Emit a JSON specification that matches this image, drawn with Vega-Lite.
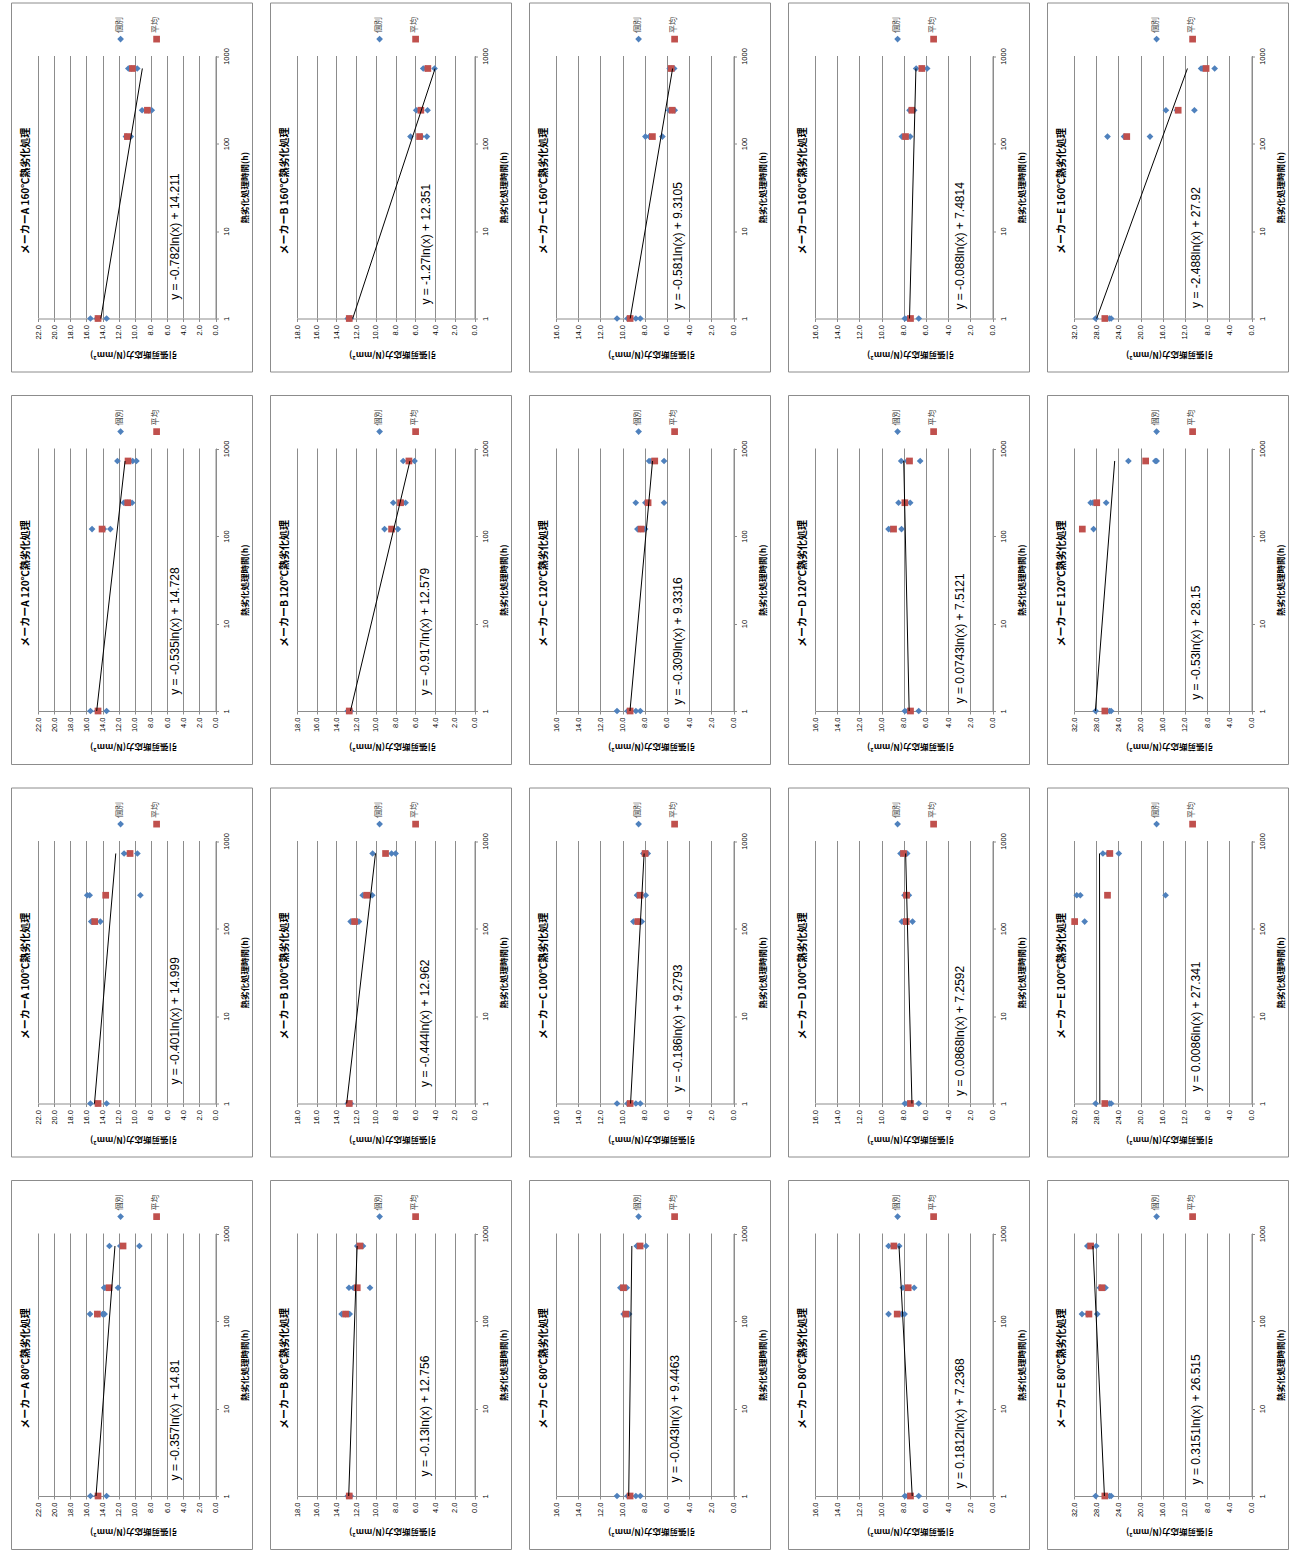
{
"$schema":"https://vega.github.io/schema/vega-lite/v6.json",
"padding":{"left":10,"top":1.5,"right":0,"bottom":0},
"background":"#ffffff",
"spacing":{"row":21.5,"column":16},
"columns":5,
"data":{"values":[
{"p":"A160","s":"個別","t":1,"v":15.5},{"p":"A160","s":"個別","t":1,"v":14.7},{"p":"A160","s":"個別","t":1,"v":13.5},
{"p":"A160","s":"個別","t":120,"v":11.1},{"p":"A160","s":"個別","t":120,"v":11.0},{"p":"A160","s":"個別","t":120,"v":10.5},
{"p":"A160","s":"個別","t":240,"v":9.1},{"p":"A160","s":"個別","t":240,"v":8.3},{"p":"A160","s":"個別","t":240,"v":7.9},
{"p":"A160","s":"個別","t":720,"v":10.8},{"p":"A160","s":"個別","t":720,"v":10.4},{"p":"A160","s":"個別","t":720,"v":9.7},
{"p":"A160","s":"平均","t":1,"v":14.56},{"p":"A160","s":"平均","t":120,"v":10.92},{"p":"A160","s":"平均","t":240,"v":8.44},{"p":"A160","s":"平均","t":720,"v":10.3},
{"p":"A160","s":"trend","t":1,"v":14.211},{"p":"A160","s":"trend","t":720,"v":9.066},
{"p":"A160","s":"eq","t":8.64,"v":4.96,"label":"y = -0.782ln(x) + 14.211"},

{"p":"B160","s":"個別","t":1,"v":12.85},{"p":"B160","s":"個別","t":1,"v":12.7},{"p":"B160","s":"個別","t":1,"v":12.55},
{"p":"B160","s":"個別","t":120,"v":6.49},{"p":"B160","s":"個別","t":120,"v":5.39},{"p":"B160","s":"個別","t":120,"v":4.83},
{"p":"B160","s":"個別","t":240,"v":5.91},{"p":"B160","s":"個別","t":240,"v":5.65},{"p":"B160","s":"個別","t":240,"v":4.76},
{"p":"B160","s":"個別","t":720,"v":5.2},{"p":"B160","s":"個別","t":720,"v":4.94},{"p":"B160","s":"個別","t":720,"v":4.05},
{"p":"B160","s":"平均","t":1,"v":12.7},{"p":"B160","s":"平均","t":120,"v":5.57},{"p":"B160","s":"平均","t":240,"v":5.44},{"p":"B160","s":"平均","t":720,"v":4.73},
{"p":"B160","s":"trend","t":1,"v":12.351},{"p":"B160","s":"trend","t":720,"v":3.995},
{"p":"B160","s":"eq","t":7.06,"v":4.96,"label":"y = -1.27ln(x) + 12.351"},

{"p":"C160","s":"個別","t":1,"v":10.5},{"p":"C160","s":"個別","t":1,"v":9.55},{"p":"C160","s":"個別","t":1,"v":8.8},{"p":"C160","s":"個別","t":1,"v":8.4},
{"p":"C160","s":"個別","t":120,"v":7.94},{"p":"C160","s":"個別","t":120,"v":7.58},{"p":"C160","s":"個別","t":120,"v":6.41},
{"p":"C160","s":"個別","t":240,"v":5.8},{"p":"C160","s":"個別","t":240,"v":5.5},{"p":"C160","s":"個別","t":240,"v":5.3},
{"p":"C160","s":"個別","t":720,"v":5.75},{"p":"C160","s":"個別","t":720,"v":5.6},{"p":"C160","s":"個別","t":720,"v":5.35},
{"p":"C160","s":"平均","t":1,"v":9.32},{"p":"C160","s":"平均","t":120,"v":7.31},{"p":"C160","s":"平均","t":240,"v":5.53},{"p":"C160","s":"平均","t":720,"v":5.62},
{"p":"C160","s":"trend","t":1,"v":9.3105},{"p":"C160","s":"trend","t":720,"v":5.488},
{"p":"C160","s":"eq","t":6.76,"v":4.96,"label":"y = -0.581ln(x) + 9.3105"},

{"p":"D160","s":"個別","t":1,"v":7.9},{"p":"D160","s":"個別","t":1,"v":7.65},{"p":"D160","s":"個別","t":1,"v":6.65},
{"p":"D160","s":"個別","t":120,"v":8.17},{"p":"D160","s":"個別","t":120,"v":7.93},{"p":"D160","s":"個別","t":120,"v":7.42},
{"p":"D160","s":"個別","t":240,"v":7.48},{"p":"D160","s":"個別","t":240,"v":7.27},{"p":"D160","s":"個別","t":240,"v":7.06},
{"p":"D160","s":"個別","t":720,"v":6.88},{"p":"D160","s":"個別","t":720,"v":6.34},{"p":"D160","s":"個別","t":720,"v":5.89},
{"p":"D160","s":"平均","t":1,"v":7.39},{"p":"D160","s":"平均","t":120,"v":7.84},{"p":"D160","s":"平均","t":240,"v":7.27},{"p":"D160","s":"平均","t":720,"v":6.37},
{"p":"D160","s":"trend","t":1,"v":7.4814},{"p":"D160","s":"trend","t":720,"v":6.902},
{"p":"D160","s":"eq","t":6.76,"v":2.97,"label":"y = -0.088ln(x) + 7.4814"},

{"p":"E160","s":"個別","t":1,"v":28.1},{"p":"E160","s":"個別","t":1,"v":25.6},{"p":"E160","s":"個別","t":1,"v":25.3},
{"p":"E160","s":"個別","t":120,"v":25.96},{"p":"E160","s":"個別","t":120,"v":22.97},{"p":"E160","s":"個別","t":120,"v":18.3},
{"p":"E160","s":"個別","t":240,"v":15.43},{"p":"E160","s":"個別","t":240,"v":13.46},{"p":"E160","s":"個別","t":240,"v":10.29},
{"p":"E160","s":"個別","t":720,"v":9.09},{"p":"E160","s":"個別","t":720,"v":8.84},{"p":"E160","s":"個別","t":720,"v":6.64},
{"p":"E160","s":"平均","t":1,"v":26.44},{"p":"E160","s":"平均","t":120,"v":22.49},{"p":"E160","s":"平均","t":240,"v":13.22},{"p":"E160","s":"平均","t":720,"v":8.19},
{"p":"E160","s":"trend","t":1,"v":27.92},{"p":"E160","s":"trend","t":720,"v":11.551},
{"p":"E160","s":"eq","t":6.47,"v":10.05,"label":"y = -2.488ln(x) + 27.92"},

{"p":"A120","s":"個別","t":1,"v":15.5},{"p":"A120","s":"個別","t":1,"v":14.7},{"p":"A120","s":"個別","t":1,"v":13.5},
{"p":"A120","s":"個別","t":120,"v":15.3},{"p":"A120","s":"個別","t":120,"v":13.85},{"p":"A120","s":"個別","t":120,"v":13.03},
{"p":"A120","s":"個別","t":240,"v":11.37},{"p":"A120","s":"個別","t":240,"v":10.93},{"p":"A120","s":"個別","t":240,"v":10.34},
{"p":"A120","s":"個別","t":720,"v":12.16},{"p":"A120","s":"個別","t":720,"v":10.26},{"p":"A120","s":"個別","t":720,"v":9.8},
{"p":"A120","s":"平均","t":1,"v":14.56},{"p":"A120","s":"平均","t":120,"v":14.06},{"p":"A120","s":"平均","t":240,"v":10.88},{"p":"A120","s":"平均","t":720,"v":10.84},
{"p":"A120","s":"trend","t":1,"v":14.728},{"p":"A120","s":"trend","t":720,"v":11.208},
{"p":"A120","s":"eq","t":8.2,"v":4.96,"label":"y = -0.535ln(x) + 14.728"},

{"p":"B120","s":"個別","t":1,"v":12.85},{"p":"B120","s":"個別","t":1,"v":12.7},{"p":"B120","s":"個別","t":1,"v":12.55},
{"p":"B120","s":"個別","t":120,"v":9.12},{"p":"B120","s":"個別","t":120,"v":8.34},{"p":"B120","s":"個別","t":120,"v":7.77},
{"p":"B120","s":"個別","t":240,"v":8.24},{"p":"B120","s":"個別","t":240,"v":7.27},{"p":"B120","s":"個別","t":240,"v":6.99},
{"p":"B120","s":"個別","t":720,"v":7.23},{"p":"B120","s":"個別","t":720,"v":6.64},{"p":"B120","s":"個別","t":720,"v":6.08},
{"p":"B120","s":"平均","t":1,"v":12.7},{"p":"B120","s":"平均","t":120,"v":8.41},{"p":"B120","s":"平均","t":240,"v":7.5},{"p":"B120","s":"平均","t":720,"v":6.65},
{"p":"B120","s":"trend","t":1,"v":12.579},{"p":"B120","s":"trend","t":720,"v":6.546},
{"p":"B120","s":"eq","t":8.07,"v":5.03,"label":"y = -0.917ln(x) + 12.579"},

{"p":"C120","s":"個別","t":1,"v":10.5},{"p":"C120","s":"個別","t":1,"v":9.55},{"p":"C120","s":"個別","t":1,"v":8.8},{"p":"C120","s":"個別","t":1,"v":8.4},
{"p":"C120","s":"個別","t":120,"v":8.66},{"p":"C120","s":"個別","t":120,"v":8.36},{"p":"C120","s":"個別","t":120,"v":7.97},
{"p":"C120","s":"個別","t":240,"v":8.81},{"p":"C120","s":"個別","t":240,"v":7.94},{"p":"C120","s":"個別","t":240,"v":6.26},
{"p":"C120","s":"個別","t":720,"v":7.61},{"p":"C120","s":"個別","t":720,"v":7.43},{"p":"C120","s":"個別","t":720,"v":6.26},
{"p":"C120","s":"平均","t":1,"v":9.32},{"p":"C120","s":"平均","t":120,"v":8.33},{"p":"C120","s":"平均","t":240,"v":7.7},{"p":"C120","s":"平均","t":720,"v":7.1},
{"p":"C120","s":"trend","t":1,"v":9.3316},{"p":"C120","s":"trend","t":720,"v":7.299},
{"p":"C120","s":"eq","t":6.3,"v":4.96,"label":"y = -0.309ln(x) + 9.3316"},

{"p":"D120","s":"個別","t":1,"v":7.9},{"p":"D120","s":"個別","t":1,"v":7.65},{"p":"D120","s":"個別","t":1,"v":6.65},
{"p":"D120","s":"個別","t":120,"v":9.37},{"p":"D120","s":"個別","t":120,"v":9.19},{"p":"D120","s":"個別","t":120,"v":8.2},
{"p":"D120","s":"個別","t":240,"v":8.47},{"p":"D120","s":"個別","t":240,"v":7.81},{"p":"D120","s":"個別","t":240,"v":7.42},
{"p":"D120","s":"個別","t":720,"v":8.23},{"p":"D120","s":"個別","t":720,"v":7.69},{"p":"D120","s":"個別","t":720,"v":6.52},
{"p":"D120","s":"平均","t":1,"v":7.39},{"p":"D120","s":"平均","t":120,"v":8.92},{"p":"D120","s":"平均","t":240,"v":7.9},{"p":"D120","s":"平均","t":720,"v":7.48},
{"p":"D120","s":"trend","t":1,"v":7.5121},{"p":"D120","s":"trend","t":720,"v":8.001},
{"p":"D120","s":"eq","t":6.76,"v":2.97,"label":"y = 0.0743ln(x) + 7.5121"},

{"p":"E120","s":"個別","t":1,"v":28.1},{"p":"E120","s":"個別","t":1,"v":25.6},{"p":"E120","s":"個別","t":1,"v":25.3},
{"p":"E120","s":"個別","t":120,"v":28.47},
{"p":"E120","s":"個別","t":240,"v":29.0},{"p":"E120","s":"個別","t":240,"v":28.6},{"p":"E120","s":"個別","t":240,"v":26.2},
{"p":"E120","s":"個別","t":720,"v":22.19},{"p":"E120","s":"個別","t":720,"v":17.34},{"p":"E120","s":"個別","t":720,"v":17.1},
{"p":"E120","s":"平均","t":1,"v":26.44},{"p":"E120","s":"平均","t":120,"v":30.5},{"p":"E120","s":"平均","t":240,"v":27.9},{"p":"E120","s":"平均","t":720,"v":19.08},
{"p":"E120","s":"trend","t":1,"v":28.15},{"p":"E120","s":"trend","t":720,"v":24.663},
{"p":"E120","s":"eq","t":6.03,"v":9.93,"label":"y = -0.53ln(x) + 28.15"},

{"p":"A100","s":"個別","t":1,"v":15.5},{"p":"A100","s":"個別","t":1,"v":14.7},{"p":"A100","s":"個別","t":1,"v":13.5},
{"p":"A100","s":"個別","t":120,"v":15.4},{"p":"A100","s":"個別","t":120,"v":15.2},{"p":"A100","s":"個別","t":120,"v":14.27},
{"p":"A100","s":"個別","t":240,"v":15.9},{"p":"A100","s":"個別","t":240,"v":15.6},{"p":"A100","s":"個別","t":240,"v":9.31},
{"p":"A100","s":"個別","t":720,"v":11.33},{"p":"A100","s":"個別","t":720,"v":10.76},{"p":"A100","s":"個別","t":720,"v":9.68},
{"p":"A100","s":"平均","t":1,"v":14.56},{"p":"A100","s":"平均","t":120,"v":14.97},{"p":"A100","s":"平均","t":240,"v":13.61},{"p":"A100","s":"平均","t":720,"v":10.59},
{"p":"A100","s":"trend","t":1,"v":14.999},{"p":"A100","s":"trend","t":720,"v":12.361},
{"p":"A100","s":"eq","t":8.79,"v":4.96,"label":"y = -0.401ln(x) + 14.999"},

{"p":"B100","s":"個別","t":1,"v":12.85},{"p":"B100","s":"個別","t":1,"v":12.7},{"p":"B100","s":"個別","t":1,"v":12.55},
{"p":"B100","s":"個別","t":120,"v":12.56},{"p":"B100","s":"個別","t":120,"v":12.2},{"p":"B100","s":"個別","t":120,"v":11.72},
{"p":"B100","s":"個別","t":240,"v":11.34},{"p":"B100","s":"個別","t":240,"v":11.11},{"p":"B100","s":"個別","t":240,"v":10.37},
{"p":"B100","s":"個別","t":720,"v":10.33},{"p":"B100","s":"個別","t":720,"v":8.41},{"p":"B100","s":"個別","t":720,"v":8.0},
{"p":"B100","s":"平均","t":1,"v":12.7},{"p":"B100","s":"平均","t":120,"v":12.16},{"p":"B100","s":"平均","t":240,"v":10.94},{"p":"B100","s":"平均","t":720,"v":9.02},
{"p":"B100","s":"trend","t":1,"v":12.962},{"p":"B100","s":"trend","t":720,"v":10.041},
{"p":"B100","s":"eq","t":8.27,"v":5.03,"label":"y = -0.444ln(x) + 12.962"},

{"p":"C100","s":"個別","t":1,"v":10.5},{"p":"C100","s":"個別","t":1,"v":9.55},{"p":"C100","s":"個別","t":1,"v":8.8},{"p":"C100","s":"個別","t":1,"v":8.4},
{"p":"C100","s":"個別","t":120,"v":9.02},{"p":"C100","s":"個別","t":120,"v":8.6},{"p":"C100","s":"個別","t":120,"v":8.27},
{"p":"C100","s":"個別","t":240,"v":8.69},{"p":"C100","s":"個別","t":240,"v":8.66},{"p":"C100","s":"個別","t":240,"v":7.91},
{"p":"C100","s":"個別","t":720,"v":8.12},{"p":"C100","s":"個別","t":720,"v":8.06},{"p":"C100","s":"個別","t":720,"v":7.73},
{"p":"C100","s":"平均","t":1,"v":9.32},{"p":"C100","s":"平均","t":120,"v":8.63},{"p":"C100","s":"平均","t":240,"v":8.42},{"p":"C100","s":"平均","t":720,"v":7.97},
{"p":"C100","s":"trend","t":1,"v":9.2793},{"p":"C100","s":"trend","t":720,"v":8.055},
{"p":"C100","s":"eq","t":7.25,"v":4.96,"label":"y = -0.186ln(x) + 9.2793"},

{"p":"D100","s":"個別","t":1,"v":7.9},{"p":"D100","s":"個別","t":1,"v":7.65},{"p":"D100","s":"個別","t":1,"v":6.65},
{"p":"D100","s":"個別","t":120,"v":8.17},{"p":"D100","s":"個別","t":120,"v":7.96},{"p":"D100","s":"個別","t":120,"v":7.21},
{"p":"D100","s":"個別","t":240,"v":7.93},{"p":"D100","s":"個別","t":240,"v":7.78},{"p":"D100","s":"個別","t":240,"v":7.54},
{"p":"D100","s":"個別","t":720,"v":8.29},{"p":"D100","s":"個別","t":720,"v":8.08},{"p":"D100","s":"個別","t":720,"v":7.69},
{"p":"D100","s":"平均","t":1,"v":7.39},{"p":"D100","s":"平均","t":120,"v":7.78},{"p":"D100","s":"平均","t":240,"v":7.75},{"p":"D100","s":"平均","t":720,"v":8.02},
{"p":"D100","s":"trend","t":1,"v":7.2592},{"p":"D100","s":"trend","t":720,"v":7.83},
{"p":"D100","s":"eq","t":6.76,"v":2.97,"label":"y = 0.0868ln(x) + 7.2592"},

{"p":"E100","s":"個別","t":1,"v":28.1},{"p":"E100","s":"個別","t":1,"v":25.6},{"p":"E100","s":"個別","t":1,"v":25.3},
{"p":"E100","s":"個別","t":120,"v":30.08},
{"p":"E100","s":"個別","t":240,"v":31.5},{"p":"E100","s":"個別","t":240,"v":30.86},{"p":"E100","s":"個別","t":240,"v":15.49},
{"p":"E100","s":"個別","t":720,"v":26.79},{"p":"E100","s":"個別","t":720,"v":25.9},{"p":"E100","s":"個別","t":720,"v":23.92},
{"p":"E100","s":"平均","t":1,"v":26.44},{"p":"E100","s":"平均","t":120,"v":31.88},{"p":"E100","s":"平均","t":240,"v":25.96},{"p":"E100","s":"平均","t":720,"v":25.54},
{"p":"E100","s":"trend","t":1,"v":27.341},{"p":"E100","s":"trend","t":720,"v":27.398},
{"p":"E100","s":"eq","t":7.58,"v":10.05,"label":"y = 0.0086ln(x) + 27.341"},

{"p":"A80","s":"個別","t":1,"v":15.5},{"p":"A80","s":"個別","t":1,"v":14.7},{"p":"A80","s":"個別","t":1,"v":13.5},
{"p":"A80","s":"個別","t":120,"v":15.55},{"p":"A80","s":"個別","t":120,"v":14.6},{"p":"A80","s":"個別","t":120,"v":14.0},{"p":"A80","s":"個別","t":120,"v":13.75},
{"p":"A80","s":"個別","t":240,"v":13.8},{"p":"A80","s":"個別","t":240,"v":13.69},{"p":"A80","s":"個別","t":240,"v":12.08},
{"p":"A80","s":"個別","t":720,"v":13.15},{"p":"A80","s":"個別","t":720,"v":11.8},{"p":"A80","s":"個別","t":720,"v":9.43},
{"p":"A80","s":"平均","t":1,"v":14.56},{"p":"A80","s":"平均","t":120,"v":14.64},{"p":"A80","s":"平均","t":240,"v":13.19},{"p":"A80","s":"平均","t":720,"v":11.46},
{"p":"A80","s":"trend","t":1,"v":14.81},{"p":"A80","s":"trend","t":720,"v":12.461},
{"p":"A80","s":"eq","t":7.38,"v":4.96,"label":"y = -0.357ln(x) + 14.81"},

{"p":"B80","s":"個別","t":1,"v":12.85},{"p":"B80","s":"個別","t":1,"v":12.7},{"p":"B80","s":"個別","t":1,"v":12.55},
{"p":"B80","s":"個別","t":120,"v":13.47},{"p":"B80","s":"個別","t":120,"v":13.08},{"p":"B80","s":"個別","t":120,"v":12.66},
{"p":"B80","s":"個別","t":240,"v":12.73},{"p":"B80","s":"個別","t":240,"v":12.29},{"p":"B80","s":"個別","t":240,"v":10.6},
{"p":"B80","s":"個別","t":720,"v":11.89},{"p":"B80","s":"個別","t":720,"v":11.66},{"p":"B80","s":"個別","t":720,"v":11.31},
{"p":"B80","s":"平均","t":1,"v":12.7},{"p":"B80","s":"平均","t":120,"v":13.07},{"p":"B80","s":"平均","t":240,"v":11.89},{"p":"B80","s":"平均","t":720,"v":11.62},
{"p":"B80","s":"trend","t":1,"v":12.756},{"p":"B80","s":"trend","t":720,"v":11.901},
{"p":"B80","s":"eq","t":8.2,"v":5.03,"label":"y = -0.13ln(x) + 12.756"},

{"p":"C80","s":"個別","t":1,"v":10.5},{"p":"C80","s":"個別","t":1,"v":9.55},{"p":"C80","s":"個別","t":1,"v":8.8},{"p":"C80","s":"個別","t":1,"v":8.4},
{"p":"C80","s":"個別","t":120,"v":9.9},{"p":"C80","s":"個別","t":120,"v":9.8},{"p":"C80","s":"個別","t":120,"v":9.41},
{"p":"C80","s":"個別","t":240,"v":10.2},{"p":"C80","s":"個別","t":240,"v":9.94},{"p":"C80","s":"個別","t":240,"v":9.62},
{"p":"C80","s":"個別","t":720,"v":8.72},{"p":"C80","s":"個別","t":720,"v":8.66},{"p":"C80","s":"個別","t":720,"v":7.88},
{"p":"C80","s":"平均","t":1,"v":9.32},{"p":"C80","s":"平均","t":120,"v":9.71},{"p":"C80","s":"平均","t":240,"v":9.92},{"p":"C80","s":"平均","t":720,"v":8.42},
{"p":"C80","s":"trend","t":1,"v":9.4463},{"p":"C80","s":"trend","t":720,"v":9.163},
{"p":"C80","s":"eq","t":7.64,"v":5.26,"label":"y = -0.043ln(x) + 9.4463"},

{"p":"D80","s":"個別","t":1,"v":7.9},{"p":"D80","s":"個別","t":1,"v":7.65},{"p":"D80","s":"個別","t":1,"v":6.65},
{"p":"D80","s":"個別","t":120,"v":9.37},{"p":"D80","s":"個別","t":120,"v":8.17},{"p":"D80","s":"個別","t":120,"v":7.93},
{"p":"D80","s":"個別","t":240,"v":8.08},{"p":"D80","s":"個別","t":240,"v":7.66},{"p":"D80","s":"個別","t":240,"v":7.06},
{"p":"D80","s":"個別","t":720,"v":9.37},{"p":"D80","s":"個別","t":720,"v":8.89},{"p":"D80","s":"個別","t":720,"v":8.41},
{"p":"D80","s":"平均","t":1,"v":7.39},{"p":"D80","s":"平均","t":120,"v":8.59},{"p":"D80","s":"平均","t":240,"v":7.6},{"p":"D80","s":"平均","t":720,"v":8.89},
{"p":"D80","s":"trend","t":1,"v":7.2368},{"p":"D80","s":"trend","t":720,"v":8.429},
{"p":"D80","s":"eq","t":6.76,"v":2.97,"label":"y = 0.1812ln(x) + 7.2368"},

{"p":"E80","s":"個別","t":1,"v":28.1},{"p":"E80","s":"個別","t":1,"v":25.6},{"p":"E80","s":"個別","t":1,"v":25.3},
{"p":"E80","s":"個別","t":120,"v":30.56},{"p":"E80","s":"個別","t":120,"v":29.56},{"p":"E80","s":"個別","t":120,"v":27.81},
{"p":"E80","s":"個別","t":240,"v":27.3},{"p":"E80","s":"個別","t":240,"v":27.27},{"p":"E80","s":"個別","t":240,"v":26.32},
{"p":"E80","s":"個別","t":720,"v":29.6},{"p":"E80","s":"個別","t":720,"v":29.37},{"p":"E80","s":"個別","t":720,"v":27.99},
{"p":"E80","s":"平均","t":1,"v":26.44},{"p":"E80","s":"平均","t":120,"v":29.31},{"p":"E80","s":"平均","t":240,"v":26.97},{"p":"E80","s":"平均","t":720,"v":29.0},
{"p":"E80","s":"trend","t":1,"v":26.515},{"p":"E80","s":"trend","t":720,"v":28.588},
{"p":"E80","s":"eq","t":7.51,"v":9.93,"label":"y = 0.3151ln(x) + 26.515"}
]},
"resolve":{"scale":{"color":"independent","shape":"independent"},"legend":{"color":"independent","shape":"independent"}},
"concat":[
{"width":241,"height":369,"transform":[{"filter":"datum.p=='A160'"}],"title":"メーカーA 160℃熱劣化処理",
"encoding":{"x":{"field":"v","type":"quantitative","scale":{"domain":[0,22],"range":[204.5,27],"nice":false,"zero":false},"axis":{"values":[0,2,4,6,8,10,12,14,16,18,20,22],"offset":-53,"format":".1f","title":"引張剪断応力(N/mm²)"}},
"y":{"field":"t","type":"quantitative","scale":{"type":"log","domain":[1,1000],"range":[316,53.5]},"axis":{"orient":"right","offset":-36.5,"values":[1,10,100,1000],"format":"d","title":"熱劣化処理時間(h)"}}},
"layer":[
{"transform":[{"filter":"datum.s=='個別'||datum.s=='平均'"}],"mark":{"type":"point","filled":true,"opacity":1,"size":45,"strokeWidth":0},
"encoding":{"color":{"field":"s","type":"nominal","title":null,"scale":{"domain":["個別","平均"],"range":["#4F81BD","#C0504D"]},"legend":{"orient":"none","legendX":105.6,"legendY":32.3,"direction":"horizontal","columnPadding":27,"padding":0,"labelFont":"Noto Sans CJK JP","labelFontSize":8,"labelColor":"#404040","symbolSize":45,"symbolStrokeWidth":0,"encoding":{"labels":{"angle":{"value":270},"align":{"value":"left"},"baseline":{"value":"middle"},"x":{"value":3.35},"dx":{"value":6}}}}},
"shape":{"field":"s","type":"nominal","title":null,"scale":{"domain":["個別","平均"],"range":["diamond","square"]}}}},
{"transform":[{"filter":"datum.s=='trend'"}],"mark":{"type":"line","color":"#000000","strokeWidth":1},"encoding":{}},
{"transform":[{"filter":"datum.s=='eq'"}],"mark":{"type":"text","angle":270,"fontSize":12,"font":"Liberation Sans","color":"#000000"},"encoding":{"text":{"field":"label"}}}
]},
{"width":241,"height":369,"transform":[{"filter":"datum.p=='B160'"}],"title":"メーカーB 160℃熱劣化処理",
"encoding":{"x":{"field":"v","type":"quantitative","scale":{"domain":[0,18],"range":[204.5,27],"nice":false,"zero":false},"axis":{"values":[0,2,4,6,8,10,12,14,16,18],"offset":-53,"format":".1f","title":"引張剪断応力(N/mm²)"}},
"y":{"field":"t","type":"quantitative","scale":{"type":"log","domain":[1,1000],"range":[316,53.5]},"axis":{"orient":"right","offset":-36.5,"values":[1,10,100,1000],"format":"d","title":"熱劣化処理時間(h)"}}},
"layer":[
{"transform":[{"filter":"datum.s=='個別'||datum.s=='平均'"}],"mark":{"type":"point","filled":true,"opacity":1,"size":45,"strokeWidth":0},
"encoding":{"color":{"field":"s","type":"nominal","title":null,"scale":{"domain":["個別","平均"],"range":["#4F81BD","#C0504D"]},"legend":{"orient":"none","legendX":105.6,"legendY":32.3,"direction":"horizontal","columnPadding":27,"padding":0,"labelFont":"Noto Sans CJK JP","labelFontSize":8,"labelColor":"#404040","symbolSize":45,"symbolStrokeWidth":0,"encoding":{"labels":{"angle":{"value":270},"align":{"value":"left"},"baseline":{"value":"middle"},"x":{"value":3.35},"dx":{"value":6}}}}},
"shape":{"field":"s","type":"nominal","title":null,"scale":{"domain":["個別","平均"],"range":["diamond","square"]}}}},
{"transform":[{"filter":"datum.s=='trend'"}],"mark":{"type":"line","color":"#000000","strokeWidth":1},"encoding":{}},
{"transform":[{"filter":"datum.s=='eq'"}],"mark":{"type":"text","angle":270,"fontSize":12,"font":"Liberation Sans","color":"#000000"},"encoding":{"text":{"field":"label"}}}
]},
{"width":241,"height":369,"transform":[{"filter":"datum.p=='C160'"}],"title":"メーカーC 160℃熱劣化処理",
"encoding":{"x":{"field":"v","type":"quantitative","scale":{"domain":[0,16],"range":[204.5,27],"nice":false,"zero":false},"axis":{"values":[0,2,4,6,8,10,12,14,16],"offset":-53,"format":".1f","title":"引張剪断応力(N/mm²)"}},
"y":{"field":"t","type":"quantitative","scale":{"type":"log","domain":[1,1000],"range":[316,53.5]},"axis":{"orient":"right","offset":-36.5,"values":[1,10,100,1000],"format":"d","title":"熱劣化処理時間(h)"}}},
"layer":[
{"transform":[{"filter":"datum.s=='個別'||datum.s=='平均'"}],"mark":{"type":"point","filled":true,"opacity":1,"size":45,"strokeWidth":0},
"encoding":{"color":{"field":"s","type":"nominal","title":null,"scale":{"domain":["個別","平均"],"range":["#4F81BD","#C0504D"]},"legend":{"orient":"none","legendX":105.6,"legendY":32.3,"direction":"horizontal","columnPadding":27,"padding":0,"labelFont":"Noto Sans CJK JP","labelFontSize":8,"labelColor":"#404040","symbolSize":45,"symbolStrokeWidth":0,"encoding":{"labels":{"angle":{"value":270},"align":{"value":"left"},"baseline":{"value":"middle"},"x":{"value":3.35},"dx":{"value":6}}}}},
"shape":{"field":"s","type":"nominal","title":null,"scale":{"domain":["個別","平均"],"range":["diamond","square"]}}}},
{"transform":[{"filter":"datum.s=='trend'"}],"mark":{"type":"line","color":"#000000","strokeWidth":1},"encoding":{}},
{"transform":[{"filter":"datum.s=='eq'"}],"mark":{"type":"text","angle":270,"fontSize":12,"font":"Liberation Sans","color":"#000000"},"encoding":{"text":{"field":"label"}}}
]},
{"width":241,"height":369,"transform":[{"filter":"datum.p=='D160'"}],"title":"メーカーD 160℃熱劣化処理",
"encoding":{"x":{"field":"v","type":"quantitative","scale":{"domain":[0,16],"range":[204.5,27],"nice":false,"zero":false},"axis":{"values":[0,2,4,6,8,10,12,14,16],"offset":-53,"format":".1f","title":"引張剪断応力(N/mm²)"}},
"y":{"field":"t","type":"quantitative","scale":{"type":"log","domain":[1,1000],"range":[316,53.5]},"axis":{"orient":"right","offset":-36.5,"values":[1,10,100,1000],"format":"d","title":"熱劣化処理時間(h)"}}},
"layer":[
{"transform":[{"filter":"datum.s=='個別'||datum.s=='平均'"}],"mark":{"type":"point","filled":true,"opacity":1,"size":45,"strokeWidth":0},
"encoding":{"color":{"field":"s","type":"nominal","title":null,"scale":{"domain":["個別","平均"],"range":["#4F81BD","#C0504D"]},"legend":{"orient":"none","legendX":105.6,"legendY":32.3,"direction":"horizontal","columnPadding":27,"padding":0,"labelFont":"Noto Sans CJK JP","labelFontSize":8,"labelColor":"#404040","symbolSize":45,"symbolStrokeWidth":0,"encoding":{"labels":{"angle":{"value":270},"align":{"value":"left"},"baseline":{"value":"middle"},"x":{"value":3.35},"dx":{"value":6}}}}},
"shape":{"field":"s","type":"nominal","title":null,"scale":{"domain":["個別","平均"],"range":["diamond","square"]}}}},
{"transform":[{"filter":"datum.s=='trend'"}],"mark":{"type":"line","color":"#000000","strokeWidth":1},"encoding":{}},
{"transform":[{"filter":"datum.s=='eq'"}],"mark":{"type":"text","angle":270,"fontSize":12,"font":"Liberation Sans","color":"#000000"},"encoding":{"text":{"field":"label"}}}
]},
{"width":241,"height":369,"transform":[{"filter":"datum.p=='E160'"}],"title":"メーカーE 160℃熱劣化処理",
"encoding":{"x":{"field":"v","type":"quantitative","scale":{"domain":[0,32],"range":[204.5,27],"nice":false,"zero":false},"axis":{"values":[0,4,8,12,16,20,24,28,32],"offset":-53,"format":".1f","title":"引張剪断応力(N/mm²)"}},
"y":{"field":"t","type":"quantitative","scale":{"type":"log","domain":[1,1000],"range":[316,53.5]},"axis":{"orient":"right","offset":-36.5,"values":[1,10,100,1000],"format":"d","title":"熱劣化処理時間(h)"}}},
"layer":[
{"transform":[{"filter":"datum.s=='個別'||datum.s=='平均'"}],"mark":{"type":"point","filled":true,"opacity":1,"size":45,"strokeWidth":0},
"encoding":{"color":{"field":"s","type":"nominal","title":null,"scale":{"domain":["個別","平均"],"range":["#4F81BD","#C0504D"]},"legend":{"orient":"none","legendX":105.6,"legendY":32.3,"direction":"horizontal","columnPadding":27,"padding":0,"labelFont":"Noto Sans CJK JP","labelFontSize":8,"labelColor":"#404040","symbolSize":45,"symbolStrokeWidth":0,"encoding":{"labels":{"angle":{"value":270},"align":{"value":"left"},"baseline":{"value":"middle"},"x":{"value":3.35},"dx":{"value":6}}}}},
"shape":{"field":"s","type":"nominal","title":null,"scale":{"domain":["個別","平均"],"range":["diamond","square"]}}}},
{"transform":[{"filter":"datum.s=='trend'"}],"mark":{"type":"line","color":"#000000","strokeWidth":1},"encoding":{}},
{"transform":[{"filter":"datum.s=='eq'"}],"mark":{"type":"text","angle":270,"fontSize":12,"font":"Liberation Sans","color":"#000000"},"encoding":{"text":{"field":"label"}}}
]},
{"width":241,"height":369,"transform":[{"filter":"datum.p=='A120'"}],"title":"メーカーA 120℃熱劣化処理",
"encoding":{"x":{"field":"v","type":"quantitative","scale":{"domain":[0,22],"range":[204.5,27],"nice":false,"zero":false},"axis":{"values":[0,2,4,6,8,10,12,14,16,18,20,22],"offset":-53,"format":".1f","title":"引張剪断応力(N/mm²)"}},
"y":{"field":"t","type":"quantitative","scale":{"type":"log","domain":[1,1000],"range":[316,53.5]},"axis":{"orient":"right","offset":-36.5,"values":[1,10,100,1000],"format":"d","title":"熱劣化処理時間(h)"}}},
"layer":[
{"transform":[{"filter":"datum.s=='個別'||datum.s=='平均'"}],"mark":{"type":"point","filled":true,"opacity":1,"size":45,"strokeWidth":0},
"encoding":{"color":{"field":"s","type":"nominal","title":null,"scale":{"domain":["個別","平均"],"range":["#4F81BD","#C0504D"]},"legend":{"orient":"none","legendX":105.6,"legendY":32.3,"direction":"horizontal","columnPadding":27,"padding":0,"labelFont":"Noto Sans CJK JP","labelFontSize":8,"labelColor":"#404040","symbolSize":45,"symbolStrokeWidth":0,"encoding":{"labels":{"angle":{"value":270},"align":{"value":"left"},"baseline":{"value":"middle"},"x":{"value":3.35},"dx":{"value":6}}}}},
"shape":{"field":"s","type":"nominal","title":null,"scale":{"domain":["個別","平均"],"range":["diamond","square"]}}}},
{"transform":[{"filter":"datum.s=='trend'"}],"mark":{"type":"line","color":"#000000","strokeWidth":1},"encoding":{}},
{"transform":[{"filter":"datum.s=='eq'"}],"mark":{"type":"text","angle":270,"fontSize":12,"font":"Liberation Sans","color":"#000000"},"encoding":{"text":{"field":"label"}}}
]},
{"width":241,"height":369,"transform":[{"filter":"datum.p=='B120'"}],"title":"メーカーB 120℃熱劣化処理",
"encoding":{"x":{"field":"v","type":"quantitative","scale":{"domain":[0,18],"range":[204.5,27],"nice":false,"zero":false},"axis":{"values":[0,2,4,6,8,10,12,14,16,18],"offset":-53,"format":".1f","title":"引張剪断応力(N/mm²)"}},
"y":{"field":"t","type":"quantitative","scale":{"type":"log","domain":[1,1000],"range":[316,53.5]},"axis":{"orient":"right","offset":-36.5,"values":[1,10,100,1000],"format":"d","title":"熱劣化処理時間(h)"}}},
"layer":[
{"transform":[{"filter":"datum.s=='個別'||datum.s=='平均'"}],"mark":{"type":"point","filled":true,"opacity":1,"size":45,"strokeWidth":0},
"encoding":{"color":{"field":"s","type":"nominal","title":null,"scale":{"domain":["個別","平均"],"range":["#4F81BD","#C0504D"]},"legend":{"orient":"none","legendX":105.6,"legendY":32.3,"direction":"horizontal","columnPadding":27,"padding":0,"labelFont":"Noto Sans CJK JP","labelFontSize":8,"labelColor":"#404040","symbolSize":45,"symbolStrokeWidth":0,"encoding":{"labels":{"angle":{"value":270},"align":{"value":"left"},"baseline":{"value":"middle"},"x":{"value":3.35},"dx":{"value":6}}}}},
"shape":{"field":"s","type":"nominal","title":null,"scale":{"domain":["個別","平均"],"range":["diamond","square"]}}}},
{"transform":[{"filter":"datum.s=='trend'"}],"mark":{"type":"line","color":"#000000","strokeWidth":1},"encoding":{}},
{"transform":[{"filter":"datum.s=='eq'"}],"mark":{"type":"text","angle":270,"fontSize":12,"font":"Liberation Sans","color":"#000000"},"encoding":{"text":{"field":"label"}}}
]},
{"width":241,"height":369,"transform":[{"filter":"datum.p=='C120'"}],"title":"メーカーC 120℃熱劣化処理",
"encoding":{"x":{"field":"v","type":"quantitative","scale":{"domain":[0,16],"range":[204.5,27],"nice":false,"zero":false},"axis":{"values":[0,2,4,6,8,10,12,14,16],"offset":-53,"format":".1f","title":"引張剪断応力(N/mm²)"}},
"y":{"field":"t","type":"quantitative","scale":{"type":"log","domain":[1,1000],"range":[316,53.5]},"axis":{"orient":"right","offset":-36.5,"values":[1,10,100,1000],"format":"d","title":"熱劣化処理時間(h)"}}},
"layer":[
{"transform":[{"filter":"datum.s=='個別'||datum.s=='平均'"}],"mark":{"type":"point","filled":true,"opacity":1,"size":45,"strokeWidth":0},
"encoding":{"color":{"field":"s","type":"nominal","title":null,"scale":{"domain":["個別","平均"],"range":["#4F81BD","#C0504D"]},"legend":{"orient":"none","legendX":105.6,"legendY":32.3,"direction":"horizontal","columnPadding":27,"padding":0,"labelFont":"Noto Sans CJK JP","labelFontSize":8,"labelColor":"#404040","symbolSize":45,"symbolStrokeWidth":0,"encoding":{"labels":{"angle":{"value":270},"align":{"value":"left"},"baseline":{"value":"middle"},"x":{"value":3.35},"dx":{"value":6}}}}},
"shape":{"field":"s","type":"nominal","title":null,"scale":{"domain":["個別","平均"],"range":["diamond","square"]}}}},
{"transform":[{"filter":"datum.s=='trend'"}],"mark":{"type":"line","color":"#000000","strokeWidth":1},"encoding":{}},
{"transform":[{"filter":"datum.s=='eq'"}],"mark":{"type":"text","angle":270,"fontSize":12,"font":"Liberation Sans","color":"#000000"},"encoding":{"text":{"field":"label"}}}
]},
{"width":241,"height":369,"transform":[{"filter":"datum.p=='D120'"}],"title":"メーカーD 120℃熱劣化処理",
"encoding":{"x":{"field":"v","type":"quantitative","scale":{"domain":[0,16],"range":[204.5,27],"nice":false,"zero":false},"axis":{"values":[0,2,4,6,8,10,12,14,16],"offset":-53,"format":".1f","title":"引張剪断応力(N/mm²)"}},
"y":{"field":"t","type":"quantitative","scale":{"type":"log","domain":[1,1000],"range":[316,53.5]},"axis":{"orient":"right","offset":-36.5,"values":[1,10,100,1000],"format":"d","title":"熱劣化処理時間(h)"}}},
"layer":[
{"transform":[{"filter":"datum.s=='個別'||datum.s=='平均'"}],"mark":{"type":"point","filled":true,"opacity":1,"size":45,"strokeWidth":0},
"encoding":{"color":{"field":"s","type":"nominal","title":null,"scale":{"domain":["個別","平均"],"range":["#4F81BD","#C0504D"]},"legend":{"orient":"none","legendX":105.6,"legendY":32.3,"direction":"horizontal","columnPadding":27,"padding":0,"labelFont":"Noto Sans CJK JP","labelFontSize":8,"labelColor":"#404040","symbolSize":45,"symbolStrokeWidth":0,"encoding":{"labels":{"angle":{"value":270},"align":{"value":"left"},"baseline":{"value":"middle"},"x":{"value":3.35},"dx":{"value":6}}}}},
"shape":{"field":"s","type":"nominal","title":null,"scale":{"domain":["個別","平均"],"range":["diamond","square"]}}}},
{"transform":[{"filter":"datum.s=='trend'"}],"mark":{"type":"line","color":"#000000","strokeWidth":1},"encoding":{}},
{"transform":[{"filter":"datum.s=='eq'"}],"mark":{"type":"text","angle":270,"fontSize":12,"font":"Liberation Sans","color":"#000000"},"encoding":{"text":{"field":"label"}}}
]},
{"width":241,"height":369,"transform":[{"filter":"datum.p=='E120'"}],"title":"メーカーE 120℃熱劣化処理",
"encoding":{"x":{"field":"v","type":"quantitative","scale":{"domain":[0,32],"range":[204.5,27],"nice":false,"zero":false},"axis":{"values":[0,4,8,12,16,20,24,28,32],"offset":-53,"format":".1f","title":"引張剪断応力(N/mm²)"}},
"y":{"field":"t","type":"quantitative","scale":{"type":"log","domain":[1,1000],"range":[316,53.5]},"axis":{"orient":"right","offset":-36.5,"values":[1,10,100,1000],"format":"d","title":"熱劣化処理時間(h)"}}},
"layer":[
{"transform":[{"filter":"datum.s=='個別'||datum.s=='平均'"}],"mark":{"type":"point","filled":true,"opacity":1,"size":45,"strokeWidth":0},
"encoding":{"color":{"field":"s","type":"nominal","title":null,"scale":{"domain":["個別","平均"],"range":["#4F81BD","#C0504D"]},"legend":{"orient":"none","legendX":105.6,"legendY":32.3,"direction":"horizontal","columnPadding":27,"padding":0,"labelFont":"Noto Sans CJK JP","labelFontSize":8,"labelColor":"#404040","symbolSize":45,"symbolStrokeWidth":0,"encoding":{"labels":{"angle":{"value":270},"align":{"value":"left"},"baseline":{"value":"middle"},"x":{"value":3.35},"dx":{"value":6}}}}},
"shape":{"field":"s","type":"nominal","title":null,"scale":{"domain":["個別","平均"],"range":["diamond","square"]}}}},
{"transform":[{"filter":"datum.s=='trend'"}],"mark":{"type":"line","color":"#000000","strokeWidth":1},"encoding":{}},
{"transform":[{"filter":"datum.s=='eq'"}],"mark":{"type":"text","angle":270,"fontSize":12,"font":"Liberation Sans","color":"#000000"},"encoding":{"text":{"field":"label"}}}
]},
{"width":241,"height":369,"transform":[{"filter":"datum.p=='A100'"}],"title":"メーカーA 100℃熱劣化処理",
"encoding":{"x":{"field":"v","type":"quantitative","scale":{"domain":[0,22],"range":[204.5,27],"nice":false,"zero":false},"axis":{"values":[0,2,4,6,8,10,12,14,16,18,20,22],"offset":-53,"format":".1f","title":"引張剪断応力(N/mm²)"}},
"y":{"field":"t","type":"quantitative","scale":{"type":"log","domain":[1,1000],"range":[316,53.5]},"axis":{"orient":"right","offset":-36.5,"values":[1,10,100,1000],"format":"d","title":"熱劣化処理時間(h)"}}},
"layer":[
{"transform":[{"filter":"datum.s=='個別'||datum.s=='平均'"}],"mark":{"type":"point","filled":true,"opacity":1,"size":45,"strokeWidth":0},
"encoding":{"color":{"field":"s","type":"nominal","title":null,"scale":{"domain":["個別","平均"],"range":["#4F81BD","#C0504D"]},"legend":{"orient":"none","legendX":105.6,"legendY":32.3,"direction":"horizontal","columnPadding":27,"padding":0,"labelFont":"Noto Sans CJK JP","labelFontSize":8,"labelColor":"#404040","symbolSize":45,"symbolStrokeWidth":0,"encoding":{"labels":{"angle":{"value":270},"align":{"value":"left"},"baseline":{"value":"middle"},"x":{"value":3.35},"dx":{"value":6}}}}},
"shape":{"field":"s","type":"nominal","title":null,"scale":{"domain":["個別","平均"],"range":["diamond","square"]}}}},
{"transform":[{"filter":"datum.s=='trend'"}],"mark":{"type":"line","color":"#000000","strokeWidth":1},"encoding":{}},
{"transform":[{"filter":"datum.s=='eq'"}],"mark":{"type":"text","angle":270,"fontSize":12,"font":"Liberation Sans","color":"#000000"},"encoding":{"text":{"field":"label"}}}
]},
{"width":241,"height":369,"transform":[{"filter":"datum.p=='B100'"}],"title":"メーカーB 100℃熱劣化処理",
"encoding":{"x":{"field":"v","type":"quantitative","scale":{"domain":[0,18],"range":[204.5,27],"nice":false,"zero":false},"axis":{"values":[0,2,4,6,8,10,12,14,16,18],"offset":-53,"format":".1f","title":"引張剪断応力(N/mm²)"}},
"y":{"field":"t","type":"quantitative","scale":{"type":"log","domain":[1,1000],"range":[316,53.5]},"axis":{"orient":"right","offset":-36.5,"values":[1,10,100,1000],"format":"d","title":"熱劣化処理時間(h)"}}},
"layer":[
{"transform":[{"filter":"datum.s=='個別'||datum.s=='平均'"}],"mark":{"type":"point","filled":true,"opacity":1,"size":45,"strokeWidth":0},
"encoding":{"color":{"field":"s","type":"nominal","title":null,"scale":{"domain":["個別","平均"],"range":["#4F81BD","#C0504D"]},"legend":{"orient":"none","legendX":105.6,"legendY":32.3,"direction":"horizontal","columnPadding":27,"padding":0,"labelFont":"Noto Sans CJK JP","labelFontSize":8,"labelColor":"#404040","symbolSize":45,"symbolStrokeWidth":0,"encoding":{"labels":{"angle":{"value":270},"align":{"value":"left"},"baseline":{"value":"middle"},"x":{"value":3.35},"dx":{"value":6}}}}},
"shape":{"field":"s","type":"nominal","title":null,"scale":{"domain":["個別","平均"],"range":["diamond","square"]}}}},
{"transform":[{"filter":"datum.s=='trend'"}],"mark":{"type":"line","color":"#000000","strokeWidth":1},"encoding":{}},
{"transform":[{"filter":"datum.s=='eq'"}],"mark":{"type":"text","angle":270,"fontSize":12,"font":"Liberation Sans","color":"#000000"},"encoding":{"text":{"field":"label"}}}
]},
{"width":241,"height":369,"transform":[{"filter":"datum.p=='C100'"}],"title":"メーカーC 100℃熱劣化処理",
"encoding":{"x":{"field":"v","type":"quantitative","scale":{"domain":[0,16],"range":[204.5,27],"nice":false,"zero":false},"axis":{"values":[0,2,4,6,8,10,12,14,16],"offset":-53,"format":".1f","title":"引張剪断応力(N/mm²)"}},
"y":{"field":"t","type":"quantitative","scale":{"type":"log","domain":[1,1000],"range":[316,53.5]},"axis":{"orient":"right","offset":-36.5,"values":[1,10,100,1000],"format":"d","title":"熱劣化処理時間(h)"}}},
"layer":[
{"transform":[{"filter":"datum.s=='個別'||datum.s=='平均'"}],"mark":{"type":"point","filled":true,"opacity":1,"size":45,"strokeWidth":0},
"encoding":{"color":{"field":"s","type":"nominal","title":null,"scale":{"domain":["個別","平均"],"range":["#4F81BD","#C0504D"]},"legend":{"orient":"none","legendX":105.6,"legendY":32.3,"direction":"horizontal","columnPadding":27,"padding":0,"labelFont":"Noto Sans CJK JP","labelFontSize":8,"labelColor":"#404040","symbolSize":45,"symbolStrokeWidth":0,"encoding":{"labels":{"angle":{"value":270},"align":{"value":"left"},"baseline":{"value":"middle"},"x":{"value":3.35},"dx":{"value":6}}}}},
"shape":{"field":"s","type":"nominal","title":null,"scale":{"domain":["個別","平均"],"range":["diamond","square"]}}}},
{"transform":[{"filter":"datum.s=='trend'"}],"mark":{"type":"line","color":"#000000","strokeWidth":1},"encoding":{}},
{"transform":[{"filter":"datum.s=='eq'"}],"mark":{"type":"text","angle":270,"fontSize":12,"font":"Liberation Sans","color":"#000000"},"encoding":{"text":{"field":"label"}}}
]},
{"width":241,"height":369,"transform":[{"filter":"datum.p=='D100'"}],"title":"メーカーD 100℃熱劣化処理",
"encoding":{"x":{"field":"v","type":"quantitative","scale":{"domain":[0,16],"range":[204.5,27],"nice":false,"zero":false},"axis":{"values":[0,2,4,6,8,10,12,14,16],"offset":-53,"format":".1f","title":"引張剪断応力(N/mm²)"}},
"y":{"field":"t","type":"quantitative","scale":{"type":"log","domain":[1,1000],"range":[316,53.5]},"axis":{"orient":"right","offset":-36.5,"values":[1,10,100,1000],"format":"d","title":"熱劣化処理時間(h)"}}},
"layer":[
{"transform":[{"filter":"datum.s=='個別'||datum.s=='平均'"}],"mark":{"type":"point","filled":true,"opacity":1,"size":45,"strokeWidth":0},
"encoding":{"color":{"field":"s","type":"nominal","title":null,"scale":{"domain":["個別","平均"],"range":["#4F81BD","#C0504D"]},"legend":{"orient":"none","legendX":105.6,"legendY":32.3,"direction":"horizontal","columnPadding":27,"padding":0,"labelFont":"Noto Sans CJK JP","labelFontSize":8,"labelColor":"#404040","symbolSize":45,"symbolStrokeWidth":0,"encoding":{"labels":{"angle":{"value":270},"align":{"value":"left"},"baseline":{"value":"middle"},"x":{"value":3.35},"dx":{"value":6}}}}},
"shape":{"field":"s","type":"nominal","title":null,"scale":{"domain":["個別","平均"],"range":["diamond","square"]}}}},
{"transform":[{"filter":"datum.s=='trend'"}],"mark":{"type":"line","color":"#000000","strokeWidth":1},"encoding":{}},
{"transform":[{"filter":"datum.s=='eq'"}],"mark":{"type":"text","angle":270,"fontSize":12,"font":"Liberation Sans","color":"#000000"},"encoding":{"text":{"field":"label"}}}
]},
{"width":241,"height":369,"transform":[{"filter":"datum.p=='E100'"}],"title":"メーカーE 100℃熱劣化処理",
"encoding":{"x":{"field":"v","type":"quantitative","scale":{"domain":[0,32],"range":[204.5,27],"nice":false,"zero":false},"axis":{"values":[0,4,8,12,16,20,24,28,32],"offset":-53,"format":".1f","title":"引張剪断応力(N/mm²)"}},
"y":{"field":"t","type":"quantitative","scale":{"type":"log","domain":[1,1000],"range":[316,53.5]},"axis":{"orient":"right","offset":-36.5,"values":[1,10,100,1000],"format":"d","title":"熱劣化処理時間(h)"}}},
"layer":[
{"transform":[{"filter":"datum.s=='個別'||datum.s=='平均'"}],"mark":{"type":"point","filled":true,"opacity":1,"size":45,"strokeWidth":0},
"encoding":{"color":{"field":"s","type":"nominal","title":null,"scale":{"domain":["個別","平均"],"range":["#4F81BD","#C0504D"]},"legend":{"orient":"none","legendX":105.6,"legendY":32.3,"direction":"horizontal","columnPadding":27,"padding":0,"labelFont":"Noto Sans CJK JP","labelFontSize":8,"labelColor":"#404040","symbolSize":45,"symbolStrokeWidth":0,"encoding":{"labels":{"angle":{"value":270},"align":{"value":"left"},"baseline":{"value":"middle"},"x":{"value":3.35},"dx":{"value":6}}}}},
"shape":{"field":"s","type":"nominal","title":null,"scale":{"domain":["個別","平均"],"range":["diamond","square"]}}}},
{"transform":[{"filter":"datum.s=='trend'"}],"mark":{"type":"line","color":"#000000","strokeWidth":1},"encoding":{}},
{"transform":[{"filter":"datum.s=='eq'"}],"mark":{"type":"text","angle":270,"fontSize":12,"font":"Liberation Sans","color":"#000000"},"encoding":{"text":{"field":"label"}}}
]},
{"width":241,"height":369,"transform":[{"filter":"datum.p=='A80'"}],"title":"メーカーA 80℃熱劣化処理",
"encoding":{"x":{"field":"v","type":"quantitative","scale":{"domain":[0,22],"range":[204.5,27],"nice":false,"zero":false},"axis":{"values":[0,2,4,6,8,10,12,14,16,18,20,22],"offset":-53,"format":".1f","title":"引張剪断応力(N/mm²)"}},
"y":{"field":"t","type":"quantitative","scale":{"type":"log","domain":[1,1000],"range":[316,53.5]},"axis":{"orient":"right","offset":-36.5,"values":[1,10,100,1000],"format":"d","title":"熱劣化処理時間(h)"}}},
"layer":[
{"transform":[{"filter":"datum.s=='個別'||datum.s=='平均'"}],"mark":{"type":"point","filled":true,"opacity":1,"size":45,"strokeWidth":0},
"encoding":{"color":{"field":"s","type":"nominal","title":null,"scale":{"domain":["個別","平均"],"range":["#4F81BD","#C0504D"]},"legend":{"orient":"none","legendX":105.6,"legendY":32.3,"direction":"horizontal","columnPadding":27,"padding":0,"labelFont":"Noto Sans CJK JP","labelFontSize":8,"labelColor":"#404040","symbolSize":45,"symbolStrokeWidth":0,"encoding":{"labels":{"angle":{"value":270},"align":{"value":"left"},"baseline":{"value":"middle"},"x":{"value":3.35},"dx":{"value":6}}}}},
"shape":{"field":"s","type":"nominal","title":null,"scale":{"domain":["個別","平均"],"range":["diamond","square"]}}}},
{"transform":[{"filter":"datum.s=='trend'"}],"mark":{"type":"line","color":"#000000","strokeWidth":1},"encoding":{}},
{"transform":[{"filter":"datum.s=='eq'"}],"mark":{"type":"text","angle":270,"fontSize":12,"font":"Liberation Sans","color":"#000000"},"encoding":{"text":{"field":"label"}}}
]},
{"width":241,"height":369,"transform":[{"filter":"datum.p=='B80'"}],"title":"メーカーB 80℃熱劣化処理",
"encoding":{"x":{"field":"v","type":"quantitative","scale":{"domain":[0,18],"range":[204.5,27],"nice":false,"zero":false},"axis":{"values":[0,2,4,6,8,10,12,14,16,18],"offset":-53,"format":".1f","title":"引張剪断応力(N/mm²)"}},
"y":{"field":"t","type":"quantitative","scale":{"type":"log","domain":[1,1000],"range":[316,53.5]},"axis":{"orient":"right","offset":-36.5,"values":[1,10,100,1000],"format":"d","title":"熱劣化処理時間(h)"}}},
"layer":[
{"transform":[{"filter":"datum.s=='個別'||datum.s=='平均'"}],"mark":{"type":"point","filled":true,"opacity":1,"size":45,"strokeWidth":0},
"encoding":{"color":{"field":"s","type":"nominal","title":null,"scale":{"domain":["個別","平均"],"range":["#4F81BD","#C0504D"]},"legend":{"orient":"none","legendX":105.6,"legendY":32.3,"direction":"horizontal","columnPadding":27,"padding":0,"labelFont":"Noto Sans CJK JP","labelFontSize":8,"labelColor":"#404040","symbolSize":45,"symbolStrokeWidth":0,"encoding":{"labels":{"angle":{"value":270},"align":{"value":"left"},"baseline":{"value":"middle"},"x":{"value":3.35},"dx":{"value":6}}}}},
"shape":{"field":"s","type":"nominal","title":null,"scale":{"domain":["個別","平均"],"range":["diamond","square"]}}}},
{"transform":[{"filter":"datum.s=='trend'"}],"mark":{"type":"line","color":"#000000","strokeWidth":1},"encoding":{}},
{"transform":[{"filter":"datum.s=='eq'"}],"mark":{"type":"text","angle":270,"fontSize":12,"font":"Liberation Sans","color":"#000000"},"encoding":{"text":{"field":"label"}}}
]},
{"width":241,"height":369,"transform":[{"filter":"datum.p=='C80'"}],"title":"メーカーC 80℃熱劣化処理",
"encoding":{"x":{"field":"v","type":"quantitative","scale":{"domain":[0,16],"range":[204.5,27],"nice":false,"zero":false},"axis":{"values":[0,2,4,6,8,10,12,14,16],"offset":-53,"format":".1f","title":"引張剪断応力(N/mm²)"}},
"y":{"field":"t","type":"quantitative","scale":{"type":"log","domain":[1,1000],"range":[316,53.5]},"axis":{"orient":"right","offset":-36.5,"values":[1,10,100,1000],"format":"d","title":"熱劣化処理時間(h)"}}},
"layer":[
{"transform":[{"filter":"datum.s=='個別'||datum.s=='平均'"}],"mark":{"type":"point","filled":true,"opacity":1,"size":45,"strokeWidth":0},
"encoding":{"color":{"field":"s","type":"nominal","title":null,"scale":{"domain":["個別","平均"],"range":["#4F81BD","#C0504D"]},"legend":{"orient":"none","legendX":105.6,"legendY":32.3,"direction":"horizontal","columnPadding":27,"padding":0,"labelFont":"Noto Sans CJK JP","labelFontSize":8,"labelColor":"#404040","symbolSize":45,"symbolStrokeWidth":0,"encoding":{"labels":{"angle":{"value":270},"align":{"value":"left"},"baseline":{"value":"middle"},"x":{"value":3.35},"dx":{"value":6}}}}},
"shape":{"field":"s","type":"nominal","title":null,"scale":{"domain":["個別","平均"],"range":["diamond","square"]}}}},
{"transform":[{"filter":"datum.s=='trend'"}],"mark":{"type":"line","color":"#000000","strokeWidth":1},"encoding":{}},
{"transform":[{"filter":"datum.s=='eq'"}],"mark":{"type":"text","angle":270,"fontSize":12,"font":"Liberation Sans","color":"#000000"},"encoding":{"text":{"field":"label"}}}
]},
{"width":241,"height":369,"transform":[{"filter":"datum.p=='D80'"}],"title":"メーカーD 80℃熱劣化処理",
"encoding":{"x":{"field":"v","type":"quantitative","scale":{"domain":[0,16],"range":[204.5,27],"nice":false,"zero":false},"axis":{"values":[0,2,4,6,8,10,12,14,16],"offset":-53,"format":".1f","title":"引張剪断応力(N/mm²)"}},
"y":{"field":"t","type":"quantitative","scale":{"type":"log","domain":[1,1000],"range":[316,53.5]},"axis":{"orient":"right","offset":-36.5,"values":[1,10,100,1000],"format":"d","title":"熱劣化処理時間(h)"}}},
"layer":[
{"transform":[{"filter":"datum.s=='個別'||datum.s=='平均'"}],"mark":{"type":"point","filled":true,"opacity":1,"size":45,"strokeWidth":0},
"encoding":{"color":{"field":"s","type":"nominal","title":null,"scale":{"domain":["個別","平均"],"range":["#4F81BD","#C0504D"]},"legend":{"orient":"none","legendX":105.6,"legendY":32.3,"direction":"horizontal","columnPadding":27,"padding":0,"labelFont":"Noto Sans CJK JP","labelFontSize":8,"labelColor":"#404040","symbolSize":45,"symbolStrokeWidth":0,"encoding":{"labels":{"angle":{"value":270},"align":{"value":"left"},"baseline":{"value":"middle"},"x":{"value":3.35},"dx":{"value":6}}}}},
"shape":{"field":"s","type":"nominal","title":null,"scale":{"domain":["個別","平均"],"range":["diamond","square"]}}}},
{"transform":[{"filter":"datum.s=='trend'"}],"mark":{"type":"line","color":"#000000","strokeWidth":1},"encoding":{}},
{"transform":[{"filter":"datum.s=='eq'"}],"mark":{"type":"text","angle":270,"fontSize":12,"font":"Liberation Sans","color":"#000000"},"encoding":{"text":{"field":"label"}}}
]},
{"width":241,"height":369,"transform":[{"filter":"datum.p=='E80'"}],"title":"メーカーE 80℃熱劣化処理",
"encoding":{"x":{"field":"v","type":"quantitative","scale":{"domain":[0,32],"range":[204.5,27],"nice":false,"zero":false},"axis":{"values":[0,4,8,12,16,20,24,28,32],"offset":-53,"format":".1f","title":"引張剪断応力(N/mm²)"}},
"y":{"field":"t","type":"quantitative","scale":{"type":"log","domain":[1,1000],"range":[316,53.5]},"axis":{"orient":"right","offset":-36.5,"values":[1,10,100,1000],"format":"d","title":"熱劣化処理時間(h)"}}},
"layer":[
{"transform":[{"filter":"datum.s=='個別'||datum.s=='平均'"}],"mark":{"type":"point","filled":true,"opacity":1,"size":45,"strokeWidth":0},
"encoding":{"color":{"field":"s","type":"nominal","title":null,"scale":{"domain":["個別","平均"],"range":["#4F81BD","#C0504D"]},"legend":{"orient":"none","legendX":105.6,"legendY":32.3,"direction":"horizontal","columnPadding":27,"padding":0,"labelFont":"Noto Sans CJK JP","labelFontSize":8,"labelColor":"#404040","symbolSize":45,"symbolStrokeWidth":0,"encoding":{"labels":{"angle":{"value":270},"align":{"value":"left"},"baseline":{"value":"middle"},"x":{"value":3.35},"dx":{"value":6}}}}},
"shape":{"field":"s","type":"nominal","title":null,"scale":{"domain":["個別","平均"],"range":["diamond","square"]}}}},
{"transform":[{"filter":"datum.s=='trend'"}],"mark":{"type":"line","color":"#000000","strokeWidth":1},"encoding":{}},
{"transform":[{"filter":"datum.s=='eq'"}],"mark":{"type":"text","angle":270,"fontSize":12,"font":"Liberation Sans","color":"#000000"},"encoding":{"text":{"field":"label"}}}
]}
],
"config":{
"view":{"stroke":"#8c8c8c","strokeWidth":1},
"font":"Liberation Sans",
"title":{"orient":"left","anchor":"middle","frame":"group","font":"Noto Sans CJK JP","fontSize":10,"fontWeight":"bold","color":"#000000","offset":-20,"dx":-4},
"axisX":{"labelAngle":270,"labelAlign":"right","labelBaseline":"middle","labelFontSize":7.5,"labelFont":"Liberation Sans","labelColor":"#000000","labelPadding":3,"labelFlush":false,"labelOverlap":false,"labelBound":false,"tickSize":3,"tickColor":"#8c8c8c","domainColor":"#8c8c8c","grid":true,"gridColor":"#8c8c8c","gridWidth":1,"gridOpacity":1,"titleAngle":180,"titleBaseline":"bottom","titleFont":"Noto Sans CJK JP","titleFontSize":8.5,"titleFontWeight":"bold","titleColor":"#000000","titlePadding":10,"titleX":122},
"axisY":{"grid":false,"labelAngle":270,"labelAlign":"center","labelBaseline":"top","labelFontSize":7.5,"labelFont":"Liberation Sans","labelColor":"#000000","labelPadding":4,"labelFlush":false,"labelOverlap":false,"labelBound":false,"tickSize":3,"tickColor":"#8c8c8c","domainColor":"#8c8c8c","titleAngle":270,"titleBaseline":"top","titleFont":"Noto Sans CJK JP","titleFontSize":8.5,"titleFontWeight":"bold","titleColor":"#000000","titlePadding":10}
}
}
